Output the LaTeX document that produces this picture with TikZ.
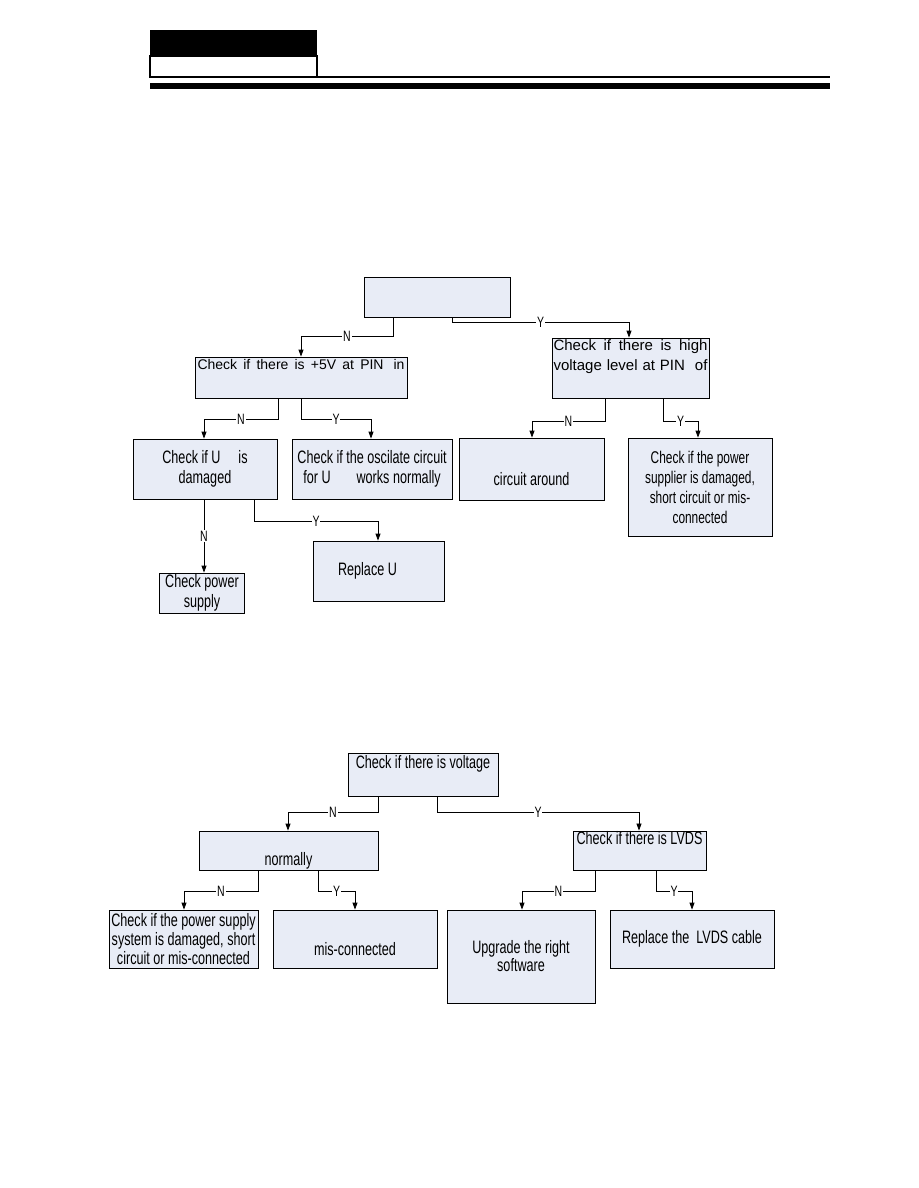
\documentclass[tikz,border=0pt]{standalone}
\usepackage{fontspec}
\setmainfont{Liberation Sans}
\newfontfamily\nsf[FakeStretch=0.7]{Liberation Sans}
\usetikzlibrary{positioning,arrows.meta}
\definecolor{boxfill}{RGB}{232,236,246}
\tikzset{
  fbox/.style={draw=black,fill=boxfill,line width=0.8pt,inner sep=0pt,align=center,
    font=\nsf\fontsize{18}{20}\selectfont},
  sz/.style 2 args={minimum width=#1,minimum height=#2},
  flow/.style={-{Triangle[length=7pt,width=5pt]},line width=0.8pt},
  yn/.style={fill=white,inner sep=0.8pt,font=\nsf\fontsize{15}{15}\selectfont},
}

\begin{document}
\begin{tikzpicture}[x=1pt,y=-1pt]
  \useasboundingbox (0,0) rectangle (918,1188);
  % page header
  \fill (150,30) rectangle (317,56);
  \draw[line width=2pt] (150,56) rectangle (317,77);
  \draw[line width=2pt] (317,77.5) -- (830,77.5);
  \fill (150,83) rectangle (830,89);

  % ---- first chart ----
  \node[fbox,sz={146}{40}] (top1) at (437,297) {};
  \node[fbox,sz={212}{41},font=\fontsize{14}{20}\selectfont] (pin5v) at (301,377.5)
    {\makebox[207pt][s]{Check if there is +5V at PIN\hspace{10pt}in}\\\strut};
  \node[fbox,sz={157}{60},font=\fontsize{15}{20}\selectfont] (hvpin) at (630.5,368)
    {\makebox[154pt][s]{Check if there is high}\\
     \makebox[154pt][s]{voltage level at PIN\hspace{10pt}of}\\\strut};
  \node[fbox,sz={144}{60}] (chkU) at (205,469) {Check if U\hspace{18pt}is\\damaged};
  \node[fbox,sz={160}{60}] (osc) at (372,469)
    {Check if the oscilate circuit\\for U\hspace{26pt}works normally};
  \node[fbox,sz={145}{62}] (circ) at (531.5,469) {\strut\\circuit around};
  \node[fbox,sz={144}{98},font=\nsf\fontsize{17}{20}\selectfont] (pwrsup) at (700,487)
    {Check if the power\\supplier is damaged,\\short circuit or mis-\\connected};
  \node[fbox,sz={85}{40}] (chkpwr) at (202,593) {Check power\\supply};
  \node[fbox,sz={131}{60}] (repU) at (378.5,571) {Replace U\hspace{22pt}};

  % ---- second chart ----
  \node[fbox,sz={150}{43}] (top2) at (423,774.5) {Check if there is voltage\\\strut};
  \node[fbox,sz={179}{39}] (norm) at (288.5,850.5) {\strut\\normally};
  \node[fbox,sz={133}{39}] (lvds) at (639.5,850.5) {Check if there is LVDS\\\strut};
  \node[fbox,sz={149}{58},font=\nsf\fontsize{18}{19}\selectfont] (pwrsys) at (183.5,939)
    {Check if the power supply\\system is damaged, short\\circuit or mis-connected};
  \node[fbox,sz={164}{58}] (misc) at (355,939) {\strut\\mis-connected};
  \node[fbox,sz={148}{93},font=\nsf\fontsize{18}{18}\selectfont] (upgr) at (521,956.5)
    {Upgrade the right\\software};
  \node[fbox,sz={164}{58}] (repl) at (692,939) {Replace the\ \ LVDS cable};

  % connectors: parent/child/start x/bend y/end x/label
  \foreach \p/\c/\sx/\my/\ex/\lab in {
      top1/pin5v/393/336/301/N, top1/hvpin/452/322/629/Y,
      pin5v/chkU/278/419/204/N, pin5v/osc/301/419/371/Y,
      hvpin/circ/605/421/532/N, hvpin/pwrsup/663/421/698/Y,
      chkU/repU/254/521/378/Y,
      top2/norm/378/812/288/N, top2/lvds/437/812/639/Y,
      norm/pwrsys/258/891/184/N, norm/misc/318/891/355/Y,
      lvds/upgr/595/891/522/N, lvds/repl/656/891/692/Y}
    \draw[flow] (\sx,0 |- \p.south) -- (\sx,\my) -- node[yn]{\lab} (\ex,\my)
      -- (\ex,0 |- \c.north);
  \draw[flow] (204,0 |- chkU.south) -- node[yn]{N} (204,0 |- chkpwr.north);
\end{tikzpicture}
\end{document}
